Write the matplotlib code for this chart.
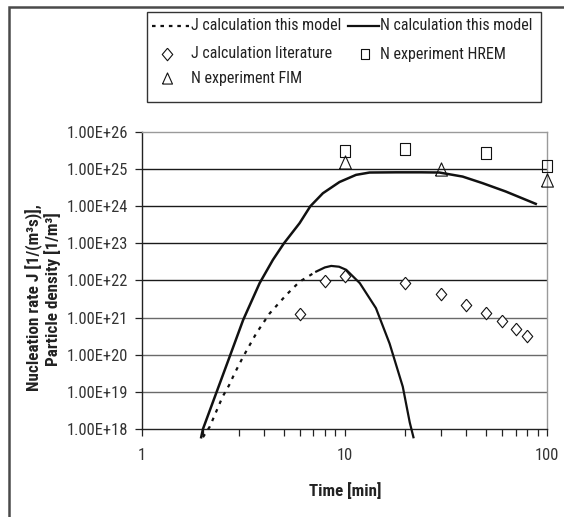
import matplotlib
matplotlib.use("Agg")
import matplotlib.pyplot as plt
from matplotlib import font_manager
from matplotlib.lines import Line2D
from matplotlib.patches import Rectangle


def _weight(w):
    if isinstance(w, str):
        return 700 if 'bold' in w.lower() else 400
    return w


fonts = {}
for f in font_manager.fontManager.ttflist:
    fonts.setdefault(f.name, set()).add((_weight(f.weight), f.style))

FONT = "Liberation Sans"
for cand in ["Liberation Sans Narrow", "Arial Narrow", "Roboto Condensed", "Archivo Narrow",
             "PT Sans Narrow", "Fira Sans Condensed", "IBM Plex Sans Condensed",
             "Liberation Sans"]:
    if cand in fonts:
        ws = {w for (w, s) in fonts[cand] if s == 'normal'}
        if any(w <= 450 for w in ws) and any(w >= 600 for w in ws):
            FONT = cand
            break
plt.rcParams['font.family'] = [FONT, 'DejaVu Sans']

# ---------------- data ----------------
# J calculation this model: rising (dotted) part and falling part
j_rise_t = [2.0, 2.16, 2.50, 2.69, 2.87, 3.16, 3.67, 4.27, 5.16, 6.0, 7.25]
j_rise_v = [6e17, 1.15e18, 7.4e18, 1.5e19, 3.2e19, 8.9e19, 3.8e20, 1.3e21, 4.1e21, 9.3e21, 1.74e22]
j_fall_t = [7.25, 8.0, 8.6, 9.4, 10.2, 11.9, 14.3, 16.7, 19.4, 21.0, 21.9]
j_fall_v = [1.74e22, 2.25e22, 2.47e22, 2.35e22, 1.94e22, 8.5e21, 1.8e21, 2.0e20, 1.38e19, 1.5e18, 6e17]

# N calculation this model
n_t = [1.96, 2.0, 2.29, 2.71, 3.16, 3.81, 4.43, 5.02, 6.0, 6.78, 7.82, 9.45, 11.4, 13.3,
       18.0, 24.0, 29.4, 38.3, 48.0, 62.5, 88.0]
n_v = [6e17, 1e18, 7.4e18, 8.9e19, 8.7e20, 8.5e21, 3.6e22, 1e23, 3.5e23, 1e24, 2.24e24,
       4.5e24, 7.0e24, 8.1e24, 8.2e24, 8.2e24, 8.1e24, 6.3e24, 4.2e24, 2.5e24, 1.16e24]

# J calculation literature
j_lit_t = [6, 8, 10, 20, 30, 40, 50, 60, 70, 80]
j_lit_v = [1.26e21, 9.8e21, 1.35e22, 8.5e21, 4.3e21, 2.2e21, 1.3e21, 8.3e20, 5e20, 3.2e20]

# N experiment HREM
hrem_t = [10, 20, 50, 100]
hrem_v = [3.0e25, 3.5e25, 2.8e25, 1.23e25]

# N experiment FIM
fim_t = [10, 30, 100]
fim_v = [1.6e25, 1.0e25, 5.2e24]

yticks = [1e18, 1e19, 1e20, 1e21, 1e22, 1e23, 1e24, 1e25, 1e26]
ytick_labels = ["1.00E+18", "1.00E+19", "1.00E+20", "1.00E+21", "1.00E+22",
                "1.00E+23", "1.00E+24", "1.00E+25", "1.00E+26"]
xticks = [1, 10, 100]
xtick_labels = ["1", "10", "100"]

legend_labels = ["J calculation this model", "N calculation this model",
                 "J calculation literature", "N experiment HREM", "N experiment FIM"]
xlabel = "Time [min]"
ylabel1 = "Nucleation rate J [1/(m³s)],"
ylabel2 = "Particle density [1/m³]"

# ---------------- figure ----------------
W, H = 564, 517
fig = plt.figure(figsize=(W / 100, H / 100), dpi=100)
renderer = fig.canvas.get_renderer()


def fx(px):
    return px / W


def fy(py):
    return 1 - py / H


def fit_size(text, target_px, weight='normal', size0=12.0, rotation=0):
    t = fig.text(0, 0, text, fontsize=size0, fontweight=weight, rotation=rotation)
    bb = t.get_window_extent(renderer)
    w = bb.height if rotation == 90 else bb.width
    t.remove()
    return size0 * target_px / w


ax = fig.add_axes([fx(142), fy(429), (547 - 142) / W, (429 - 132) / H])
ax.set_xscale('log')
ax.set_yscale('log')
ax.set_xlim(1, 100)
ax.set_ylim(1e18, 1e26)

for y in yticks[1:-1]:
    col = '#1a1a1a' if y >= 1e22 else '#6a6a6a'
    ax.axhline(y, color=col, lw=1.0, zorder=1)

DOT = (0, (1.6, 2.6))
ax.plot(j_rise_t, j_rise_v, color='#111111', lw=1.6, ls=DOT, zorder=3, clip_on=False)
ax.plot(j_fall_t, j_fall_v, color='#111111', lw=1.6, zorder=3, clip_on=False)
ax.plot(n_t, n_v, color='#111111', lw=1.8, zorder=3, clip_on=False)

DIAM = [(0, 0.5), (0.42, 0), (0, -0.5), (-0.42, 0), (0, 0.5)]
SQR = [(-0.42, -0.5), (0.42, -0.5), (0.42, 0.5), (-0.42, 0.5), (-0.42, -0.5)]
TRI = [(-0.45, -0.5), (0.45, -0.5), (0, 0.5), (-0.45, -0.5)]

ax.plot(j_lit_t, j_lit_v, ls='none', marker=DIAM, ms=9, mfc='white', mec='#111111', mew=0.8, zorder=4)
ax.plot(hrem_t, hrem_v, ls='none', marker=SQR, ms=8.5, mfc='none', mec='#111111', mew=0.8,
        zorder=4, clip_on=False)
ax.plot(fim_t, fim_v, ls='none', marker=TRI, ms=9.5, mfc='none', mec='#111111', mew=0.8,
        zorder=4, clip_on=False)

tick_fs = min(fit_size("1.00E+25", 61), 14)
ax.set_yticks(yticks)
ax.set_yticklabels(ytick_labels)
ax.set_xticks(xticks)
ax.set_xticklabels(xtick_labels)
ax.minorticks_on()
ax.yaxis.set_minor_locator(matplotlib.ticker.NullLocator())
ax.tick_params(axis='both', which='major', direction='out', length=5, width=0.9,
               labelsize=tick_fs, colors='#222222', labelcolor='#333333')
ax.tick_params(axis='x', which='minor', direction='out', length=5, width=0.9, colors='#222222')
ax.tick_params(axis='x', which='major', pad=9)
ax.tick_params(axis='y', which='major', pad=5)

for s in ['top', 'right']:
    ax.spines[s].set_color('#9a9a9a')
    ax.spines[s].set_linewidth(1.0)
for s in ['left', 'bottom']:
    ax.spines[s].set_color('#222222')
    ax.spines[s].set_linewidth(1.0)

# axis titles
xl_fs = min(fit_size(xlabel, 72, weight='bold'), 13)
fig.text(fx(345), fy(491), xlabel, fontsize=xl_fs, fontweight='bold', color='#222222',
         ha='center', va='center')
yl_fs = min(fit_size(ylabel2, 192, weight='bold', rotation=90), 12.3)
fig.text(fx(34), fy(298), ylabel1, fontsize=yl_fs, fontweight='bold', color='#222222',
         ha='center', va='center', rotation=90)
fig.text(fx(53), fy(289), ylabel2, fontsize=yl_fs, fontweight='bold', color='#222222',
         ha='center', va='center', rotation=90)

# legend (drawn as a box with entries in Excel layout)
leg_fs = min(fit_size(legend_labels[1], 153), 14)
fig.patches.append(Rectangle((fx(146.7), fy(101.7)), (541 - 146.7) / W, (101.7 - 11.7) / H,
                             transform=fig.transFigure, fill=True, facecolor='white',
                             edgecolor='#333333', lw=1.0, zorder=5))
rows = [26, 54, 78]
# col 1
fig.add_artist(Line2D([fx(151.7), fx(189)], [fy(rows[0])] * 2, color='#111111', lw=1.6,
                      ls=(0, (1.6, 2.2)), zorder=6))
fig.add_artist(Line2D([fx(167)], [fy(rows[1])], ls='none', marker=DIAM, ms=9, mfc='white',
                      mec='#111111', mew=0.8, zorder=6))
fig.add_artist(Line2D([fx(167)], [fy(rows[2])], ls='none', marker=TRI, ms=8, mfc='none',
                      mec='#111111', mew=0.8, zorder=6))
# col 2
fig.add_artist(Line2D([fx(348), fx(379)], [fy(rows[0])] * 2, color='#111111', lw=1.6, zorder=6))
fig.add_artist(Line2D([fx(365)], [fy(rows[1])], ls='none', marker=SQR, ms=7, mfc='none',
                      mec='#111111', mew=0.8, zorder=6))
text_pos = [(191, rows[0]), (380, rows[0]), (191, rows[1]), (380, rows[1]), (191, rows[2])]
for lab, (px, py) in zip(legend_labels, text_pos):
    fig.text(fx(px), fy(py), lab, fontsize=leg_fs, color='#222222', ha='left', va='center',
             zorder=7)

# outer frame (partly cut by the image edge)
fig.patches.append(Rectangle((fx(9), -0.05), 1.1, fy(7) + 0.05, transform=fig.transFigure,
                             fill=False, edgecolor='#4a4a4a', lw=1.8, zorder=0))

fig.savefig("out.png", dpi=100)
